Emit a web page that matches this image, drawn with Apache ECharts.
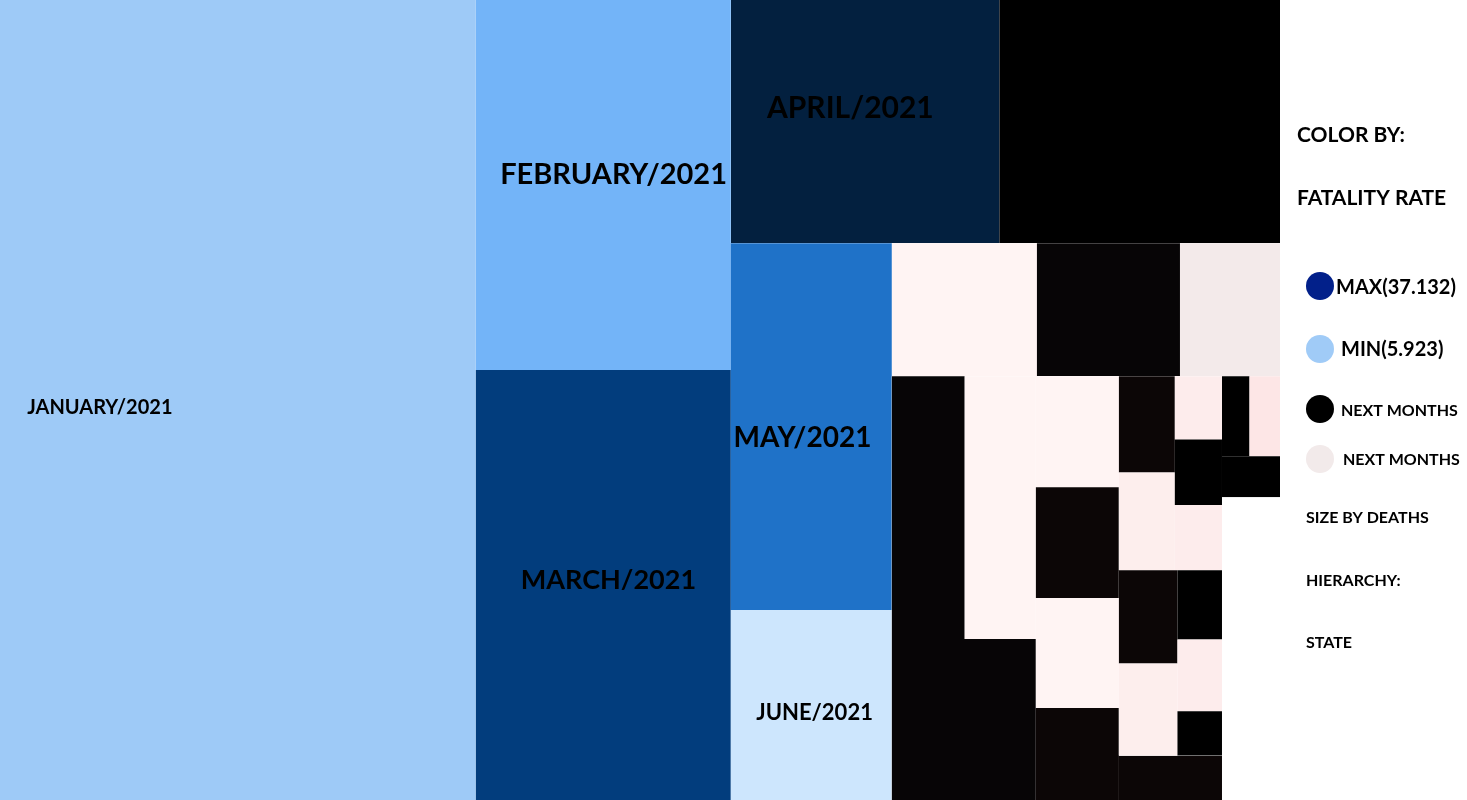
<!DOCTYPE html>
<html>
<head>
<meta charset="utf-8">
<script src="https://cdn.jsdelivr.net/npm/echarts@6/dist/echarts.min.js"></script>
<style>
  html, body { margin: 0; padding: 0; background: #ffffff; }
  #chart { width: 1467px; height: 800px; }
</style>
</head>
<body>
<div id="chart"></div>
<script>
// ---------------- DATA ----------------
// Months coloured by fatality rate (size = deaths)
const monthNames  = ['JANUARY/2021', 'FEBRUARY/2021', 'MARCH/2021', 'APRIL/2021', 'MAY/2021', 'JUNE/2021'];
const monthDeaths = [38080, 9435, 10965, 6537, 5909, 3059];

// "Next months" cells (state level, no labels), deaths
const nextNames = [
  'NEXT MONTHS 01', 'NEXT MONTHS 02', 'NEXT MONTHS 03', 'NEXT MONTHS 04', 'NEXT MONTHS 05',
  'NEXT MONTHS 06', 'NEXT MONTHS 07', 'NEXT MONTHS 08', 'NEXT MONTHS 09', 'NEXT MONTHS 10',
  'NEXT MONTHS 11', 'NEXT MONTHS 12', 'NEXT MONTHS 13', 'NEXT MONTHS 14', 'NEXT MONTHS 15',
  'NEXT MONTHS 16', 'NEXT MONTHS 17', 'NEXT MONTHS 18', 'NEXT MONTHS 19', 'NEXT MONTHS 20',
  'NEXT MONTHS 21', 'NEXT MONTHS 22', 'NEXT MONTHS 23', 'NEXT MONTHS 24', 'NEXT MONTHS 25',
  'NEXT MONTHS 26'
];
const nextDeaths = [
  6828, 1929, 1902, 1330, 1915,
  1872, 2318, 921, 921, 913,
  764, 539, 546, 299, 308,
  308, 546, 539, 308, 320,
  197, 459, 220, 244, 238,
  1757
];

// Hierarchy of the treemap (M = month, N = next-months cell)
const hierarchy = [
  ['M0', ['M1', 'M2']],
  'M3',
  'N0',
  [
    ['M4', 'M5'],
    ['N1', 'N2', 'N3',
      [
        [['N4', 'N5', 'N6'],
          [['N7', 'N8', 'N9', 'N10'],
            [[['N11', 'N12'], ['N13', 'N14', 'N15']],
             [['N16', 'N17'], ['N18', 'N19', 'N20']],
             'N21']]],
        ['N22', 'N23', 'N24', 'N25']
      ]
    ]
  ]
];

// ---------------- STYLES ----------------
const monthColors = ['#9ecaf7', '#73b4f8', '#023d7d', '#03203f', '#1f72c8', '#cde6fd'];
const nextColors = [
  '#000000', '#fff4f3', '#070506', '#f3eaea', '#070506',
  '#fff4f3', '#070506', '#fff4f3', '#0c0606', '#fff4f3',
  '#0c0606', '#0c0606', '#fdeeed', '#fdecec', '#000000',
  '#fdecec', '#0c0606', '#fdeeed', '#000000', '#fdecec',
  '#000000', '#0c0606', '#000000', '#fde6e6', '#000000',
  '#ffffff'
];
const monthLabelStyle = [
  { fontSize: 20, position: ['5.7%', '50.9%'], align: 'left' },
  { fontSize: 29, position: ['54%', '47.3%'], align: 'center' },
  { fontSize: 27, position: ['52%', '49%'], align: 'center' },
  { fontSize: 30, position: ['44.5%', '44.6%'], align: 'center' },
  { fontSize: 28, position: ['44.5%', '53%'], align: 'center' },
  { fontSize: 22, position: ['52%', '54.2%'], align: 'center' }
];
const FONT = 'Lato, "DejaVu Sans", sans-serif';

// ---------------- BUILD TREE ----------------
function buildNode(node) {
  if (Array.isArray(node)) {
    return { name: '', children: node.map(buildNode) };
  }
  const idx = parseInt(node.slice(1), 10);
  if (node[0] === 'M') {
    const ls = monthLabelStyle[idx];
    return {
      name: monthNames[idx],
      value: monthDeaths[idx],
      itemStyle: { color: monthColors[idx] },
      label: {
        show: true,
        position: ls.position,
        align: ls.align,
        verticalAlign: 'middle',
        fontSize: ls.fontSize,
        fontFamily: FONT,
        fontWeight: 'bold',
        color: '#000000',
        padding: 0
      }
    };
  }
  return {
    name: nextNames[idx],
    value: nextDeaths[idx],
    itemStyle: { color: nextColors[idx] },
    label: { show: false }
  };
}
const treeData = hierarchy.map(buildNode);

// ---------------- LEGEND (decoration) ----------------
function legendText(text, x, y, size) {
  return {
    type: 'text', x: x, y: y, silent: true,
    style: { text: text, fill: '#000000', font: 'bold ' + size + 'px ' + FONT, verticalAlign: 'middle', align: 'left' }
  };
}
function legendDot(cx, cy, color) {
  return { type: 'circle', silent: true, shape: { cx: cx, cy: cy, r: 14 }, style: { fill: color } };
}

const chart = echarts.init(document.getElementById('chart'), null, { renderer: 'canvas' });
chart.setOption({
  animation: false,
  backgroundColor: '#ffffff',
  series: [{
    type: 'treemap',
    left: 0, top: 0, width: 1280, height: 800,
    squareRatio: 2.635,
    sort: false,
    roam: false,
    nodeClick: false,
    silent: true,
    visibleMin: 0,
    breadcrumb: { show: false },
    itemStyle: { borderWidth: 0, gapWidth: 0, borderColor: '#ffffff' },
    upperLabel: { show: false },
    label: { show: false },
    data: treeData
  }],
  graphic: [
    legendText('COLOR BY:', 1297, 135, 21),
    legendText('FATALITY RATE', 1297, 198, 21),
    legendDot(1320, 286, '#02208a'),
    legendText('MAX(37.132)', 1336, 288, 20),
    legendDot(1320, 349, '#a0cbf7'),
    legendText('MIN(5.923)', 1341, 350, 20),
    legendDot(1320, 409, '#000000'),
    legendText('NEXT MONTHS', 1341, 411, 16),
    legendDot(1320, 459, '#f2eaea'),
    legendText('NEXT MONTHS', 1343, 460, 16),
    legendText('SIZE BY DEATHS', 1306, 518, 16),
    legendText('HIERARCHY:', 1306, 581, 16),
    legendText('STATE', 1306, 643, 16)
  ]
});
</script>
</body>
</html>
